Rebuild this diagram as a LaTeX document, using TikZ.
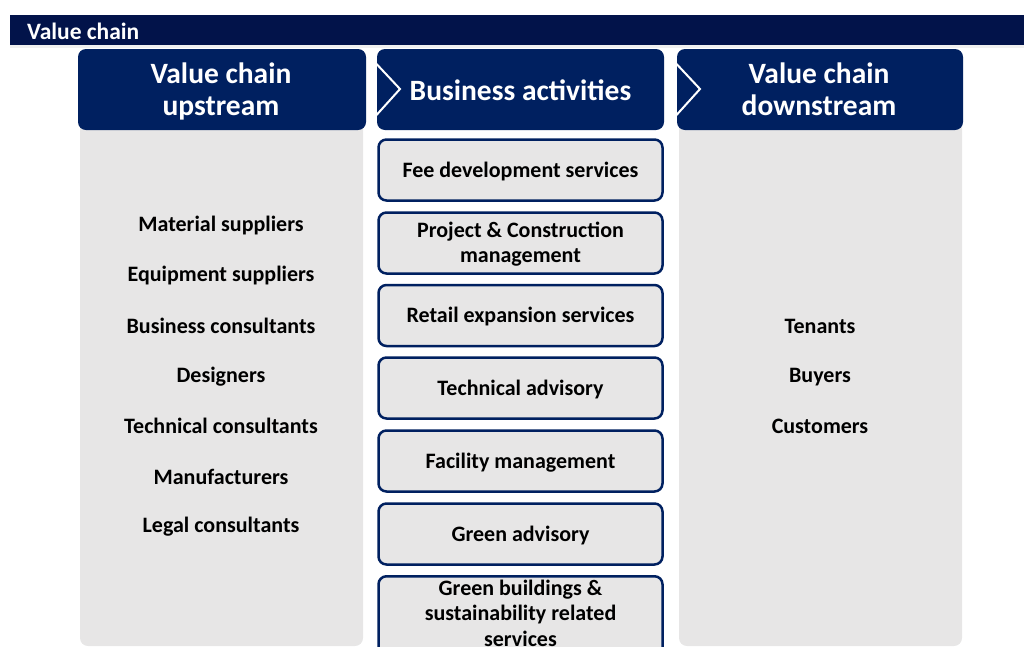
\documentclass[tikz,border=0pt]{standalone}
\usepackage{fontspec}
\setmainfont{Carlito}
\definecolor{navy}{HTML}{002060}
\definecolor{topbar}{HTML}{02134A}
\definecolor{colgray}{HTML}{E7E6E6}
\definecolor{strip}{HTML}{F0F0F0}
\tikzset{
  hdr/.style={fill=navy, rounded corners=8pt, text=white, align=center, inner sep=0pt,
    font=\fontsize{29.5}{32.5}\selectfont\bfseries},
  actbox/.style={draw=navy, line width=2.5pt, fill=colgray, rounded corners=8pt,
    minimum width=284pt, minimum height=61pt, align=center, inner sep=0pt, text=black,
    text depth=1pt, font=\fontsize{22}{25.5}\selectfont\bfseries},
  item/.style={text=black, inner sep=0pt, font=\fontsize{22}{25.5}\selectfont\bfseries},
  chev/.style={draw=white, line width=2pt}
}
\begin{document}
\begin{tikzpicture}[x=1pt,y=-1pt]
\useasboundingbox (0,0) rectangle (1024,646);
\clip (0,0) rectangle (1024,646);
% top bar
\fill[topbar] (10,15) rectangle (1024,45);
\fill[strip] (10,45) rectangle (1024,48);
\node[anchor=west, text=white, inner sep=0pt, font=\fontsize{23.5}{26}\selectfont\bfseries] (title) at (27,31.5) {Value chain};
% gray columns
\fill[colgray, rounded corners=8pt] (80,110) rectangle (363,646);
\fill[colgray, rounded corners=8pt] (679,110) rectangle (962,646);
% headers
\node[hdr, minimum width=288pt, minimum height=81pt] (up) at (222,89.5) {};
\node[hdr, minimum width=287pt, minimum height=81pt] (act) at (520.5,89.5) {};
\node[hdr, minimum width=286pt, minimum height=81pt] (down) at (820,89.5) {};
\node[hdr, fill=none] (upt) at (221,91.5) {Value chain\\upstream};
\node[hdr, fill=none] (actt) at (520.5,90) {Business activities};
\node[hdr, fill=none] (downt) at (819,89.5) {Value chain\\downstream};
\draw[chev] (370,57) -- (400,89) -- (372,120);
\draw[chev] (670,57) -- (700,89) -- (672,120);
% upstream items
\node[item] (u1) at (221,226) {Material suppliers};
\node[item] (u2) at (221,276) {Equipment suppliers};
\node[item] (u3) at (221,326) {Business consultants};
\node[item] (u4) at (221,377) {Designers};
\node[item] (u5) at (221,426) {Technical consultants};
\node[item] (u6) at (221,477) {Manufacturers};
\node[item] (u7) at (221,527) {Legal consultants};
% downstream items
\node[item] (d1) at (820,326) {Tenants};
\node[item] (d2) at (820,377) {Buyers};
\node[item] (d3) at (820,426) {Customers};
% activity boxes
\node[actbox] (a1) at (520.5,170) {Fee development services};
\node[actbox] (a2) at (520.5,243) {Project \& Construction\\management};
\node[actbox] (a3) at (520.5,315.5) {Retail expansion services};
\node[actbox] (a4) at (520.5,388) {Technical advisory};
\node[actbox] (a5) at (520.5,461) {Facility management};
\node[actbox] (a6) at (520.5,534) {Green advisory};
\node[actbox, minimum height=90pt, anchor=north] (a7) at (520.5,575) {};
\node[item, align=center, anchor=north] (a7t) at (520.5,579.5) {Green buildings \&\\sustainability related\\services};
\end{tikzpicture}
\end{document}
